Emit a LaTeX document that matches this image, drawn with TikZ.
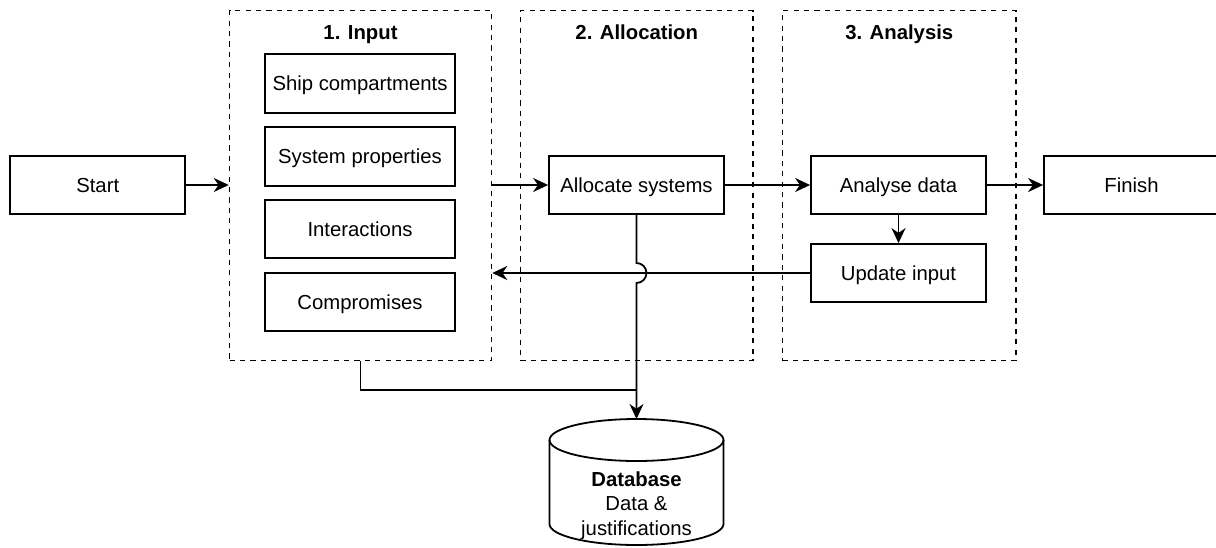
\documentclass[tikz,border=0pt]{standalone}
\usepackage{fontspec}
\setmainfont{Liberation Sans}
\usetikzlibrary{arrows.meta}
\tikzset{
	box/.style={draw, line width=0.9pt, minimum width=87.5pt, minimum height=29pt, inner sep=0pt, text height=7.1pt, text depth=0pt, font=\fontsize{10.15}{12.25}\selectfont},
	subbox/.style={box, minimum width=95pt, minimum height=29.25pt},
	group/.style={draw, dash pattern=on 2.6pt off 2.6pt, line width=0.75pt, minimum height=175pt, inner sep=0pt},
	grouptitle/.style={anchor=base, inner sep=0pt, font=\fontsize{10.15}{12.25}\selectfont\bfseries},
	conn/.style={line width=0.9pt, -{Stealth[length=7.5pt,width=7pt,inset=2.4pt]}},
}

\begin{document}
\begin{tikzpicture}[x=0.5pt, y=-0.5pt]
		%%%%% START %%%%%
		\useasboundingbox (0, 0) rectangle (1216, 547);
		
		\node[group, minimum width=131pt] (inp) at (360.5, 185.5) {};
		\node[group, minimum width=116.25pt] (alloc) at (636.75, 185.5) {};
		\node[group, minimum width=116.75pt] (anal) at (899.25, 185.5) {};
		
		\node[grouptitle] (inptitle) at (360.5, 39.5) {1. Input};
		\node[grouptitle] (alloctitle) at (636.75, 39.5) {2. Allocation};
		\node[grouptitle] (analtitle) at (899.25, 39.5) {3. Analysis};
		
		\node[box] (start) at (97.75, 185) {Start};
		
		\node[subbox] (ship) at (360, 83.5) {Ship compartments};
		\node[subbox] (sysprop) at (360, 156.5) {System properties};
		\node[subbox] (inter) at (360, 229) {Interactions};
		\node[subbox] (compro) at (360, 302) {Compromises};
		
		\node[box] (allocsys) at (636.5, 185) {Allocate systems};
		\node[box] (analyse) at (898.5, 185) {Analyse data};
		\node[box] (update) at (898.5, 273) {Update input};
		\node[box] (finish) at (1131.5, 185) {Finish};
		
		% database
		\draw[line width=0.9pt, fill=white] (549.5, 440) -- (549.5, 524) arc (180:0:87 and 21) -- (723.5, 440);
		\draw[line width=0.9pt] (636.5, 440) ellipse (87 and 21);
		\node[align=center, font=\fontsize{10.15}{12.25}\selectfont] (db) at (636.5, 505.5) {\textbf{Database}\\Data \&\\justifications};
		\coordinate (dbtop) at (636.5, 419);
		\coordinate (join) at (636.5, 390);
		
		\draw[conn] (start.east) -- (start.east -| inp.west);
		\draw[conn] (allocsys.west -| inp.east) -- (allocsys.west);
		\draw[conn] (allocsys.east) -- (analyse.west);
		\draw[conn] (analyse.east) -- (finish.west);
		\draw[conn] (analyse.south) -- (update.north);
		\draw[conn] (update.west) -- (update.west -| inp.east);
		
		\draw[conn] (allocsys.south) -- (636.5, 263) arc (-90:90:10) -- (dbtop);
		\draw[line width=0.9pt] (inp.south) |- (join);
		
		%%%%% END %%%%%
\end{tikzpicture}
\end{document}
